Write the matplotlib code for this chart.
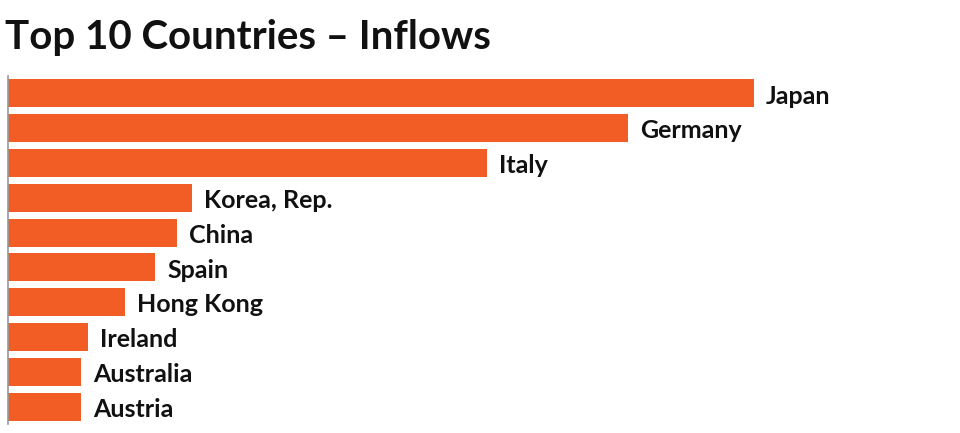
import matplotlib
matplotlib.use('Agg')
import matplotlib.pyplot as plt

countries = ['Japan', 'Germany', 'Italy', 'Korea, Rep.', 'China', 'Spain',
             'Hong Kong', 'Ireland', 'Australia', 'Austria']
inflows = [746, 620, 479, 184, 169, 147, 117, 80, 73, 73]

plt.rcParams['font.family'] = ['Lato', 'DejaVu Sans']

fig = plt.figure(figsize=(9.6, 4.33), dpi=100)
ax = fig.add_axes([8/960, 9/433, 952/960, 348/433])

ypos = list(range(len(countries)))
ax.barh(ypos, inflows, height=0.8, color='#F15D24', edgecolor='none')
for y, v, name in zip(ypos, inflows, countries):
    ax.text(v + 12, y + 0.08, name, va='center', ha='left', fontsize=18,
            fontweight='bold', color='#111111')

ax.set_xlim(0, 952)
ax.set_ylim(len(countries) - 0.5, -0.5)
for s in ['top', 'right', 'bottom']:
    ax.spines[s].set_visible(False)
ax.spines['left'].set_color('#999999')
ax.spines['left'].set_linewidth(1.2)
ax.set_xticks([])
ax.set_yticks([])

fig.text(5/960, 1 - 38/433, 'Top 10 Countries – Inflows', fontsize=29,
         fontweight='bold', va='center', ha='left', color='#111111')

fig.savefig('out.png', dpi=100)
